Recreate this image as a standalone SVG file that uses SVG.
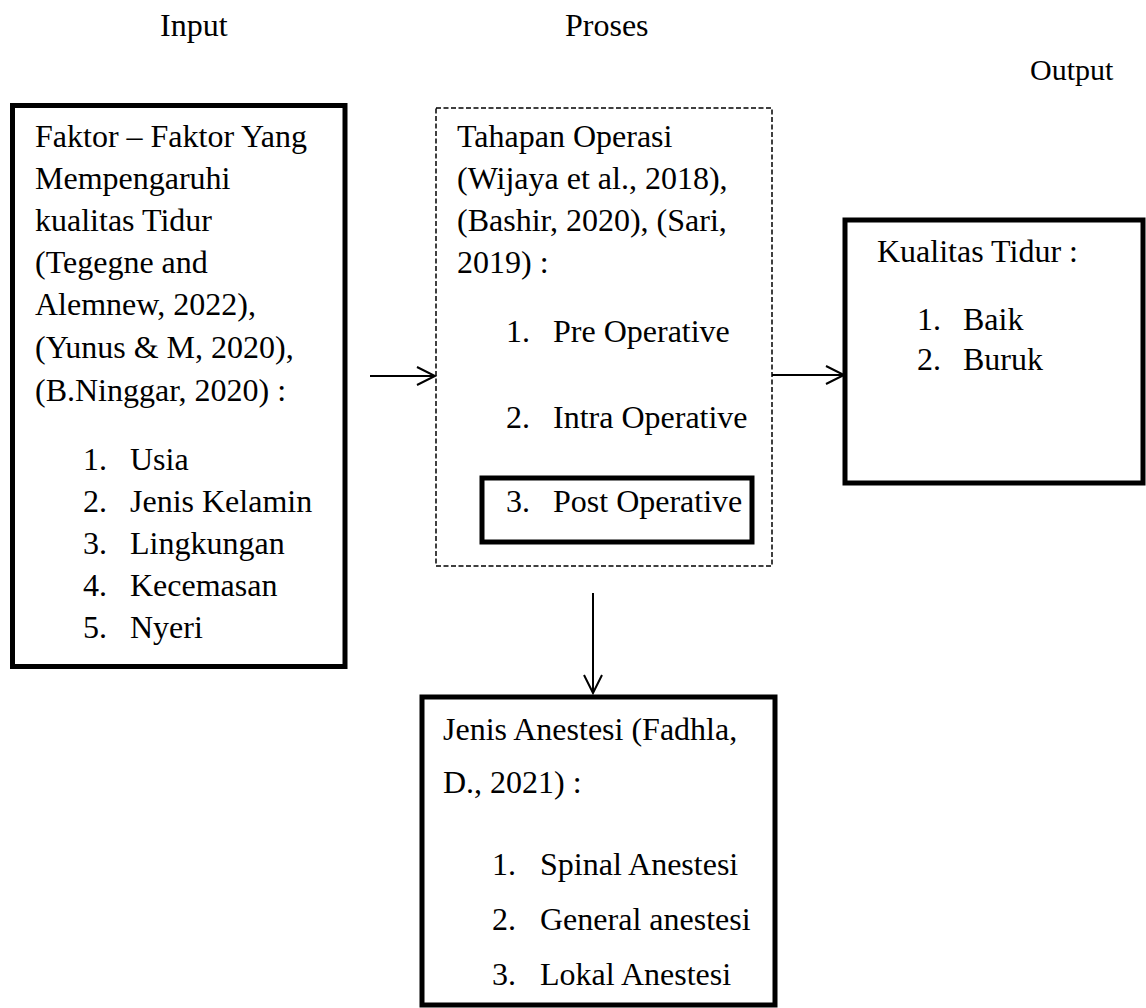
<svg xmlns="http://www.w3.org/2000/svg" width="1146" height="1008" viewBox="0 0 1146 1008">
<defs>
<style>
text{font-family:"Liberation Serif","Times New Roman",serif;font-size:32px;fill:#000}
.box{fill:#fff;stroke:#000;stroke-width:5}
.dash{fill:none;stroke:#000;stroke-width:1.5;stroke-dasharray:5 2.5}
.conn{fill:none;stroke:#000;stroke-width:2}
</style>
<marker id="arr" markerWidth="22" markerHeight="22" refX="19" refY="10" orient="auto" markerUnits="userSpaceOnUse">
<path d="M1,1 L19,10 L1,19" fill="none" stroke="#000" stroke-width="2"/>
</marker>
</defs>
<rect width="1146" height="1008" fill="#fff"/>
<g id="titles">
<text x="160" y="36">Input</text>
<text x="565" y="36">Proses</text>
<text x="1030" y="80" style="font-size:30px">Output</text>
</g>
<g id="input">
<rect class="box" x="12.5" y="105.5" width="332.5" height="561"/>
<text x="35" y="147">Faktor – Faktor Yang</text>
<text x="35" y="189">Mempengaruhi</text>
<text x="35" y="231">kualitas Tidur</text>
<text x="35" y="273">(Tegegne and</text>
<text x="35" y="315">Alemnew, 2022),</text>
<text x="35" y="358">(Yunus &amp; M, 2020),</text>
<text x="35" y="401">(B.Ninggar, 2020) :</text>
<text y="470"><tspan x="83">1.</tspan><tspan x="130">Usia</tspan></text>
<text y="512"><tspan x="83">2.</tspan><tspan x="130">Jenis Kelamin</tspan></text>
<text y="554"><tspan x="83">3.</tspan><tspan x="130">Lingkungan</tspan></text>
<text y="596"><tspan x="83">4.</tspan><tspan x="130">Kecemasan</tspan></text>
<text y="638"><tspan x="83">5.</tspan><tspan x="130">Nyeri</tspan></text>
</g>
<g id="proses">
<rect class="dash" x="436" y="108" width="336" height="458"/>
<text x="457" y="147">Tahapan Operasi</text>
<text x="457" y="189">(Wijaya et al., 2018),</text>
<text x="457" y="231">(Bashir, 2020), (Sari,</text>
<text x="457" y="273">2019)  :</text>
<text y="342"><tspan x="506">1.</tspan><tspan x="553">Pre Operative</tspan></text>
<text y="428"><tspan x="506">2.</tspan><tspan x="553">Intra Operative</tspan></text>
</g>
<g id="post">
<rect class="box" x="482" y="478" width="270" height="64"/>
<text y="512"><tspan x="506">3.</tspan><tspan x="553">Post Operative</tspan></text>
</g>
<g id="output">
<rect class="box" x="845" y="220" width="298" height="263"/>
<text x="877" y="262">Kualitas Tidur :</text>
<text y="330"><tspan x="917">1.</tspan><tspan x="963">Baik</tspan></text>
<text y="370"><tspan x="917">2.</tspan><tspan x="963">Buruk</tspan></text>
</g>
<g id="anestesi">
<rect class="box" x="422" y="697" width="353" height="308"/>
<text x="443" y="740">Jenis Anestesi (Fadhla,</text>
<text x="443" y="793">D., 2021) :</text>
<text y="875"><tspan x="492">1.</tspan><tspan x="540">Spinal Anestesi</tspan></text>
<text y="930"><tspan x="492">2.</tspan><tspan x="540">General anestesi</tspan></text>
<text y="985"><tspan x="492">3.</tspan><tspan x="540">Lokal Anestesi</tspan></text>
</g>
<g id="connectors">
<line class="conn" x1="370" y1="376" x2="435" y2="376" marker-end="url(#arr)"/>
<line class="conn" x1="772" y1="375" x2="844" y2="375" marker-end="url(#arr)"/>
<line class="conn" x1="593" y1="593" x2="593" y2="693" marker-end="url(#arr)"/>
</g>
</svg>
